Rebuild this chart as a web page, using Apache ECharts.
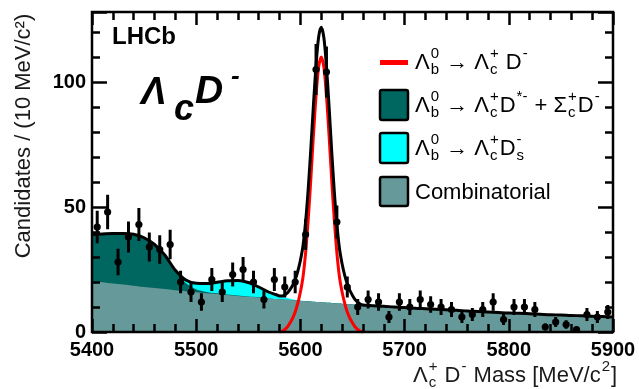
<!DOCTYPE html>
<html><head><meta charset="utf-8">
<script src="https://cdn.jsdelivr.net/npm/echarts@6/dist/echarts.min.js"></script>
<style>html,body{margin:0;padding:0;background:#fff;}#c{width:639px;height:389px;}</style>
</head><body><div id="c"></div>
<script>
// ---------- data ----------
const massBins = [5405,5415,5425,5435,5445,5455,5465,5475,5485,5495,
                  5505,5515,5525,5535,5545,5555,5565,5575,5585,5595,
                  5605,5615,5625,5635,5645,5655,5665,5675,5685,5695,
                  5705,5715,5725,5735,5745,5755,5765,5775,5785,5795,
                  5805,5815,5825,5835,5845,5855,5865,5875,5885,5895];
const counts = [42,48,28,38,43,34,33,35,20,16,
                12,21,16,23,25,20,13,21,18,20,
                39,105,104,44,18,10,13,12,6,12,
                10,13,11,10,9,6,7,9,12,5,
                10,10,9,2,4,3,1,7,6,8];
const countErr = [6.5,6.9,5.3,6.2,6.6,5.8,5.7,5.9,4.5,4.0,
                  3.5,4.6,4.0,4.8,5.0,4.5,3.6,4.6,4.2,4.5,
                  6.2,10.2,10.2,6.6,4.2,3.2,3.6,3.5,2.4,3.5,
                  3.2,3.6,3.3,3.2,3.0,2.4,2.6,3.0,3.5,2.2,
                  3.2,3.2,3.0,1.4,2.0,1.7,1.0,2.6,2.4,2.8];

const fitMass = [5400,5410,5420,5430,5440,5450,5460,5470,5480,5490,5500,5510,5520,5530,5540,5550,5560,5570,
  5575,5577.5,5580,5582.5,5585,5587.5,5590,5592.5,5595,5597.5,5600,5602.5,5605,5607.5,5610,5612.5,5615,5617.5,5620,
  5622.5,5625,5627.5,5630,5632.5,5635,5637.5,5640,5642.5,5645,5647.5,5650,5652.5,5655,5657.5,5660,5662.5,5665,
  5670,5680,5690,5700,5710,5720,5730,5740,5750,5760,5770,5780,5790,5800,5810,5820,5830,5840,5850,5860,5870,5880,5890,5900];
const combFit = [20.4,19.9,19.4,19.0,18.5,18.0,17.6,17.2,16.7,16.3,15.9,15.5,15.2,14.8,14.4,14.1,13.8,13.4,
  13.25,13.2,13.1,13.0,12.95,12.9,12.8,12.7,12.65,12.6,12.5,12.4,12.35,12.3,12.2,12.1,12.05,12.0,11.9,
  11.8,11.75,11.7,11.6,11.5,11.45,11.4,11.3,11.2,11.15,11.1,11.0,10.95,10.9,10.85,10.8,10.7,10.65,
  10.5,10.3,10.0,9.8,9.5,9.3,9.1,8.9,8.7,8.4,8.2,8.0,7.8,7.6,7.5,7.3,7.1,6.9,6.8,6.6,6.5,6.3,6.2,6.0];
const partRecoFit = [18.6,19.3,20.0,20.4,20.6,19.7,17.4,13.4,7.6,3.3,1.2,0.5,0.3,0.2,0.2,0.1,0.1,0,
  0,0,0,0,0,0,0,0,0,0,0,0,0,0,0,0,0,0,0,
  0,0,0,0,0,0,0,0,0,0,0,0,0,0,0,0,0,0,0,
  0,0,0,0,0,0,0,0,0,0,0,0,0,0,0,0,0,0,0,0,0,0,0,0];
const dsFit = [0,0,0,0,0,0,0,0.1,0.4,1.2,2.4,3.4,4.4,5.5,6.0,5.6,4.1,2.5,
  1.9,1.6,1.3,1.1,0.9,0.7,0.55,0.4,0.3,0.2,0.15,0.1,0.05,0,0,0,0,0,0,
  0,0,0,0,0,0,0,0,0,0,0,0,0,0,0,0,0,0,0,
  0,0,0,0,0,0,0,0,0,0,0,0,0,0,0,0,0,0,0,0,0,0,0,0];
const signalFit = [0,0,0,0,0,0,0,0,0,0,0,0,0,0,0,0,0,0,
  0,0,0,0.3,1.0,2.0,3.6,5.5,8.0,11.5,16.0,22.0,31.7,45.0,61.0,78.6,94.5,106.0,110.0,
  106.0,94.5,78.6,61.0,45.0,31.7,22.0,16.0,11.5,8.0,5.5,3.6,2.0,1.0,0.3,0,0,0,
  0,0,0,0,0,0,0,0,0,0,0,0,0,0,0,0,0,0,0,0,0,0,0,0];
const yLabelValues = [0, 50, 100];
const xLabelValues = [5400, 5500, 5600, 5700, 5800, 5900];

// ---------- derived stacks ----------
const combLine = fitMass.map((m,i)=>[m, combFit[i]]);
const tealTop  = fitMass.map((m,i)=>[m, combFit[i]+partRecoFit[i]]);
const cyanTop  = fitMass.map((m,i)=>[m, combFit[i]+partRecoFit[i]+dsFit[i]]);
const totalLine = fitMass.map((m,i)=>[m, combFit[i]+partRecoFit[i]+dsFit[i]+signalFit[i]]);
const redLine = fitMass.map((m,i)=>[m, signalFit[i]]).filter(p=>p[0]>=5580 && p[0]<=5660);
const pts = massBins.map((m,i)=>[m, counts[i], countErr[i]]);

// ---------- text helpers ----------
const FAM = '"Liberation Sans", Arial, Helvetica, sans-serif';
const mctx = document.createElement('canvas').getContext('2d');
function fontStr(size, weight, style){ return (style||'normal')+' '+(weight||'normal')+' '+size+'px '+FAM; }
function textW(t, f){ mctx.font = f; return mctx.measureText(t).width; }
function txt(t, x, base, size, o){
  o = o || {};
  return {type:'text', z:100, silent:true, style:{text:t, x:x, y:base-0.34*size,
    font:fontStr(size,o.weight,o.style), fill:o.color||'#000',
    textAlign:o.align||'left', align:o.align||'left', textVerticalAlign:'middle', verticalAlign:'middle'}};
}
function richLine(x0, base, segs, fs, color){
  const els=[]; let x=x0; const sm=Math.round(fs*0.68);
  for (const s of segs){
    if (s.t){ els.push(txt(s.t, x, base, fs, {color})); x += textW(s.t, fontStr(fs)); }
    let w=0;
    if (s.sup){ els.push(txt(s.sup, x+1, base-0.52*fs, sm, {color})); w=Math.max(w, textW(s.sup, fontStr(sm))); }
    if (s.sub){ els.push(txt(s.sub, x+1, base+0.24*fs, sm, {color})); w=Math.max(w, textW(s.sub, fontStr(sm))); }
    if (w) x += w+2;
  }
  return els;
}

const LABEL = {fontSize:20, fontWeight:'bold', color:'#000', fontFamily:FAM};
const TICK = {color:'#000', width:2.5};
function xAx(pos, showLabel){
  return {type:'value', position:pos, min:5400, max:5900, interval:100, z:10,
    axisLine:{show:false, onZero:false}, splitLine:{show:false},
    axisTick:{show:true, inside:true, length:13, lineStyle:TICK},
    minorTick:{show:true, splitNumber:5, length:8, lineStyle:TICK},
    axisLabel:{show:showLabel, margin:8, ...LABEL,
      formatter:v=> xLabelValues.indexOf(v)>=0 ? String(v) : ''}};
}
function yAx(pos, interval, len, showLabel){
  return {type:'value', position:pos, min:0, max:128, interval:interval, z:10,
    axisLine:{show:false, onZero:false}, splitLine:{show:false},
    axisTick:{show:true, inside:true, length:len, lineStyle:TICK},
    axisLabel:{show:showLabel, margin:6, ...LABEL,
      formatter:v=> yLabelValues.indexOf(v)>=0 ? String(v) : ''}};
}

const graphics = [
  {type:'rect', z:60, silent:true, shape:{x:92,y:12,width:521,height:320}, style:{fill:'none', stroke:'#000', lineWidth:2.5}},
  txt('LHCb', 112, 46, 24, {weight:'bold'}),
  txt('Λ', 141, 106, 38, {weight:'bold', style:'italic'}),
  txt('c', 174, 122, 36, {weight:'bold', style:'italic'}),
  txt('D', 195, 106, 39, {weight:'bold', style:'italic'}),
  txt('-', 231, 86, 26, {weight:'bold', style:'italic'}),
  // legend markers
  {type:'line', z:100, shape:{x1:380,y1:62.5,x2:408,y2:62.5}, style:{stroke:'#ff0000', lineWidth:5}},
  {type:'rect', z:100, shape:{x:380,y:90,width:28,height:30,r:2}, style:{fill:'#006660', stroke:'#000', lineWidth:2.5}},
  {type:'rect', z:100, shape:{x:380,y:133,width:28,height:30,r:2}, style:{fill:'#00ffff', stroke:'#000', lineWidth:2.5}},
  {type:'rect', z:100, shape:{x:380,y:177,width:28,height:29,r:2}, style:{fill:'#669999', stroke:'#000', lineWidth:2.5}},
  ...richLine(415, 70, [{t:'Λ',sup:'0',sub:'b'},{t:' → Λ',sup:'+',sub:'c'},{t:' D',sup:'-'}], 22, '#000'),
  ...richLine(415, 113, [{t:'Λ',sup:'0',sub:'b'},{t:' → Λ',sup:'+',sub:'c'},{t:'D',sup:'*-'},{t:' + Σ',sup:'+',sub:'c'},{t:'D',sup:'-'}], 22, '#000'),
  ...richLine(415, 156, [{t:'Λ',sup:'0',sub:'b'},{t:' → Λ',sup:'+',sub:'c'},{t:'D',sup:'-',sub:'s'}], 22, '#000'),
  txt('Combinatorial', 415, 200, 22),
  // axis titles
  ...richLine(413, 383, [{t:'Λ',sup:'+',sub:'c'},{t:' D',sup:'-'},{t:' Mass [MeV/c',sup:'2'},{t:']'}], 22, '#1a1a1a'),
  {type:'text', z:100, x:24, y:136, rotation:Math.PI/2, silent:true,
    style:{text:'Candidates / (10 MeV/c²)', x:0, y:0, font:fontStr(22), fill:'#1a1a1a',
      textAlign:'center', align:'center', textVerticalAlign:'middle', verticalAlign:'middle'}}
];

const chart = echarts.init(document.getElementById('c'), null, {renderer:'canvas'});
chart.setOption({
  animation:false,
  backgroundColor:'#fff',
  grid:{left:92, right:26, top:12, bottom:57, show:false, containLabel:false, outerBoundsMode:'none'},
  xAxis:[xAx('bottom', true), xAx('top', false)],
  yAxis:[yAx('left',50,15,true), yAx('left',10,8,false), yAx('right',50,15,false), yAx('right',10,8,false)],
  series:[
    {type:'line', data:cyanTop, smooth:0.3, symbol:'none', silent:true, z:1,
      lineStyle:{width:0}, areaStyle:{color:'#00ffff', opacity:1, origin:'start'}},
    {type:'line', data:tealTop, smooth:0.3, symbol:'none', silent:true, z:2,
      lineStyle:{width:0}, areaStyle:{color:'#006660', opacity:1, origin:'start'}},
    {type:'line', data:combLine, smooth:0.3, symbol:'none', silent:true, z:3,
      lineStyle:{width:0}, areaStyle:{color:'#669999', opacity:1, origin:'start'}},
    {type:'line', data:redLine, smooth:0.3, symbol:'none', silent:true, z:4,
      lineStyle:{color:'#ff0000', width:3}},
    {type:'line', data:totalLine, smooth:0.3, symbol:'none', silent:true, z:5,
      lineStyle:{color:'#000', width:3}},
    {type:'custom', data:pts, z:6, clip:true, silent:true,
      renderItem:function(params, api){
        const x=api.value(0), y=api.value(1), e=api.value(2);
        const p=api.coord([x,y]), lo=api.coord([x,y-e]), hi=api.coord([x,y+e]);
        return {type:'group', children:[
          {type:'line', shape:{x1:p[0],y1:lo[1],x2:p[0],y2:hi[1]}, style:{stroke:'#000', lineWidth:3}},
          {type:'circle', shape:{cx:p[0],cy:p[1],r:3.6}, style:{fill:'#000'}}
        ]};
      }}
  ],
  graphic:graphics
});
</script></body></html>
